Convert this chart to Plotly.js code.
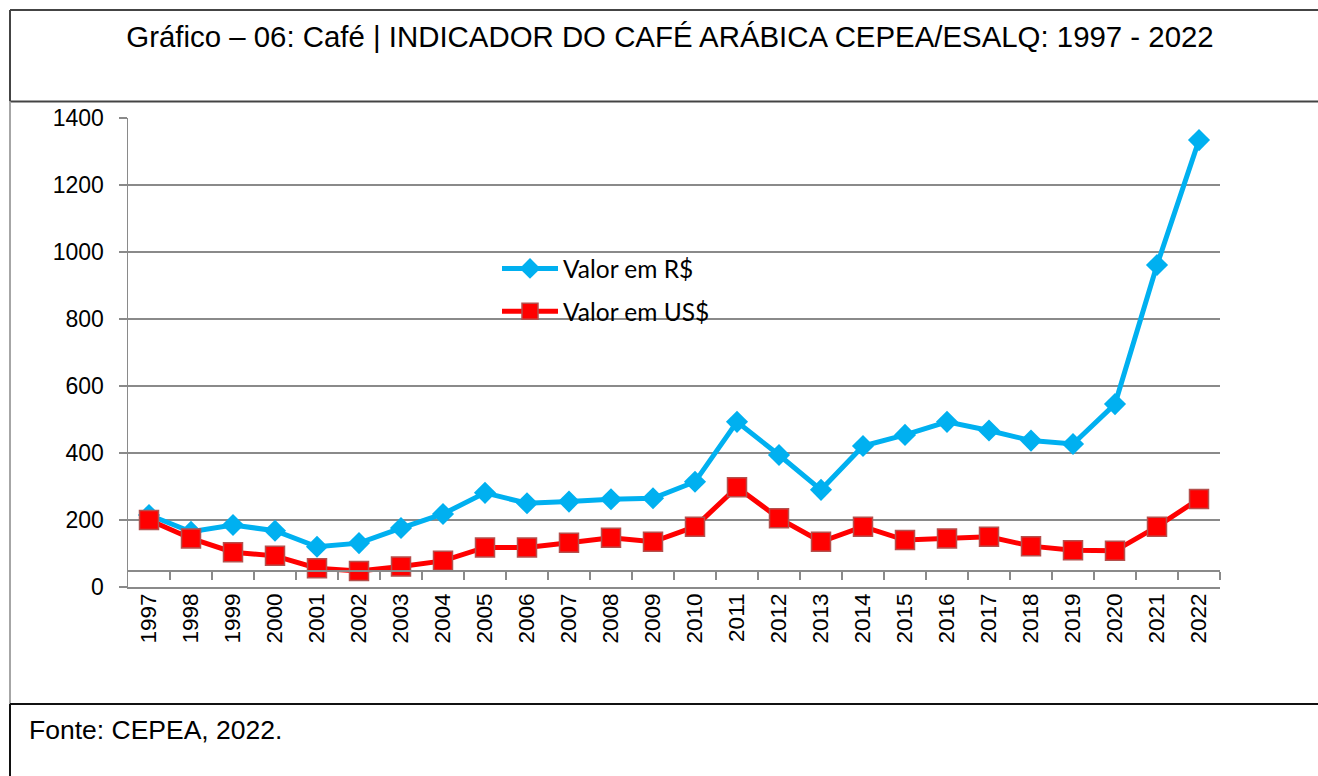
<!DOCTYPE html>
<html>
<head>
<meta charset="utf-8">
<script src="https://cdn.plot.ly/plotly-3.0.1.min.js"></script>
<style>html,body{margin:0;padding:0;background:#fff;}#chart{width:1318px;height:776px;}</style>
</head>
<body>
<div id="chart"></div>
<script>
// ---- data ----
const years = ["1997","1998","1999","2000","2001","2002","2003","2004","2005","2006","2007","2008","2009","2010","2011","2012","2013","2014","2015","2016","2017","2018","2019","2020","2021","2022"];
const valorRS = [215,165,185,168,120,131,176,218,281,250,255,262,265,314,493,394,290,421,454,493,467,437,427,546,961,1334];
const valorUSD = [200,145,104,93,56,48,61,78,118,118,132,147,135,180,298,205,135,180,140,145,150,122,110,108,180,263];
const yTicks = [0,200,400,600,800,1000,1200,1400];
const titleText = "Gráfico – 06: Café | INDICADOR DO CAFÉ ARÁBICA CEPEA/ESALQ: 1997 - 2022";
const sourceText = "Fonte: CEPEA, 2022.";
const nameRS = "Valor em R$";
const nameUSD = "Valor em US$";

// ---- geometry helpers (pixel -> paper) ----
const W = 1318, H = 776;
const L = 128, R = 1220, T = 118, B = 587;
const px = x => (x - L) / (R - L);
const py = y => (B - y) / (B - T);

const gridCol = "#8a8a8a";
const boundaries = years.map((_, i) => i + 0.5);

const traces = [
  {
    x: years, y: valorRS, name: nameRS, type: "scatter", mode: "lines+markers",
    legendgroup: "rs",
    line: {color: "#00B0F0", width: 5},
    marker: {symbol: "diamond", size: 17, color: "#00B0F0", line: {color: "#00B0F0", width: 0}},
    hoverinfo: "skip"
  },
  {
    x: years, y: valorUSD, name: nameUSD, type: "scatter", mode: "lines+markers",
    legendgroup: "usd",
    line: {color: "#FF0000", width: 5},
    marker: {symbol: "square", size: 19, color: "#FF0000", line: {color: "#B5504D", width: 1.5}},
    hoverinfo: "skip"
  },
  {x: [], y: [], xaxis: "x2", yaxis: "y", showlegend: false, hoverinfo: "skip"}
];

const lineShape = (x0, y0, x1, y1, color, width) => ({
  type: "line", xref: "paper", yref: "paper",
  x0: px(x0), y0: py(y0), x1: px(x1), y1: py(y1),
  line: {color: color, width: width}, layer: "above"
});

const layout = {
  width: W, height: H,
  margin: {l: L, r: W - R, t: T, b: H - B, pad: 0},
  paper_bgcolor: "#ffffff", plot_bgcolor: "#ffffff",
  font: {family: "Liberation Sans, Arial, sans-serif", color: "#000"},
  title: {
    text: titleText, font: {family: "Liberation Sans, Arial, sans-serif", size: 29.4, color: "#000"},
    x: 670 / W, xanchor: "center", xref: "container",
    y: 1 - 37 / H, yanchor: "middle", yref: "container"
  },
  showlegend: true,
  legend: {
    x: px(497), xanchor: "left", y: py(246), yanchor: "top",
    bgcolor: "rgba(0,0,0,0)", borderwidth: 0,
    font: {family: "Lato, Carlito, sans-serif", size: 24.5, color: "#000"},
    itemwidth: 56, tracegroupgap: 8, traceorder: "grouped"
  },
  xaxis: {
    type: "category", range: [-0.5, years.length - 0.5],
    showgrid: false, zeroline: false,
    showline: true, linecolor: gridCol, linewidth: 1.5,
    ticks: "", tickangle: -90, ticklabelstandoff: -4,
    tickfont: {family: "Liberation Sans, Arial, sans-serif", size: 22.5, color: "#000"},
    fixedrange: true
  },
  xaxis2: {
    overlaying: "x", anchor: "free", position: py(570),
    range: [-0.5, years.length - 0.5], showgrid: false, zeroline: false,
    showline: true, linecolor: gridCol, linewidth: 1.5,
    tickmode: "array", tickvals: boundaries, ticks: "outside", ticklen: 8,
    tickcolor: gridCol, tickwidth: 1.5, showticklabels: false, fixedrange: true
  },
  yaxis: {
    range: [0, 1400], tickmode: "array", tickvals: yTicks,
    showgrid: true, gridcolor: gridCol, gridwidth: 1.5, zeroline: false,
    showline: true, linecolor: gridCol, linewidth: 1.5,
    ticks: "outside", ticklen: 8, tickcolor: gridCol, tickwidth: 1.5,
    ticklabelstandoff: 10,
    tickfont: {family: "Liberation Sans, Arial, sans-serif", size: 23, color: "#000"},
    fixedrange: true
  },
  shapes: [
    lineShape(10, 10, W, 10, "#444444", 2),
    lineShape(10, 101.5, W, 101.5, "#444444", 2),
    lineShape(10, 10, 10, 101.5, "#444444", 2),
    lineShape(10, 101.5, 10, 704, "#a6a6a6", 2),
    lineShape(10, 704, 10, H, "#111111", 2),
    lineShape(10, 704, W, 704, "#111111", 2)
  ],
  annotations: [
    {
      text: sourceText, xref: "paper", yref: "paper",
      x: px(27), xanchor: "left", y: py(730), yanchor: "middle",
      showarrow: false, font: {family: "Liberation Sans, Arial, sans-serif", size: 26.5, color: "#000"}
    }
  ]
};

Plotly.newPlot("chart", traces, layout, {staticPlot: true, displayModeBar: false});
</script>
</body>
</html>
